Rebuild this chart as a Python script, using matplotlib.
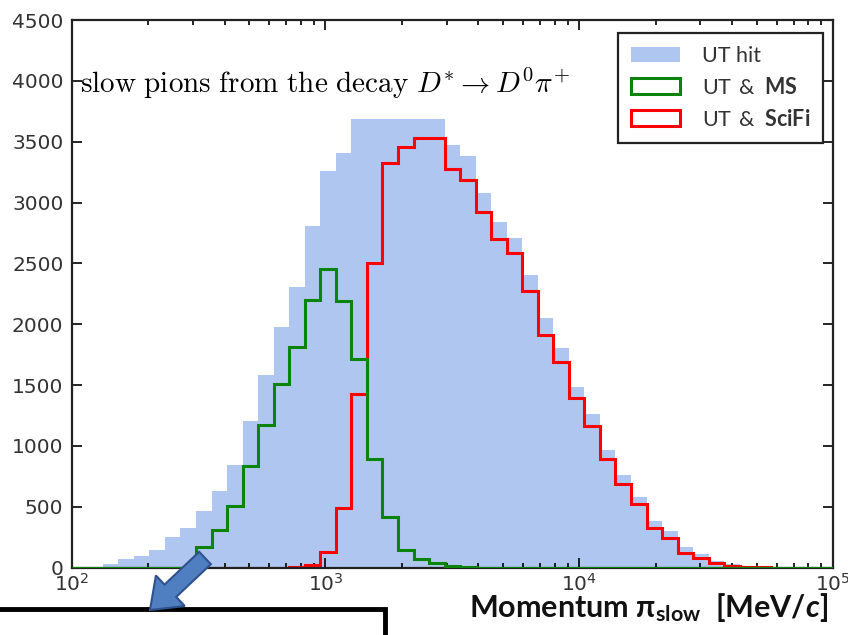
import numpy as np
import matplotlib
matplotlib.use("Agg")
import matplotlib.pyplot as plt
from matplotlib import patches
from matplotlib.transforms import IdentityTransform

plt.rcParams['mathtext.bf'] = 'Lato:bold'
plt.rcParams['mathtext.rm'] = 'Lato'
plt.rcParams['mathtext.it'] = 'Lato:italic'
plt.rcParams['mathtext.bfit'] = 'Lato:bold:italic'

# 49 log-spaced bins between 1e2 and 1e5 MeV/c
edges = np.logspace(2, 5, 50)

# UT hit (filled)
ut_hit = [0, 5, 33, 68, 96, 146, 256, 325, 462, 627,
          847, 1205, 1582, 1980, 2310, 2808, 3259, 3405, 3690, 3690,
          3690, 3690, 3690, 3690, 3473, 3385, 3075, 2841, 2709, 2406,
          2049, 1802, 1488, 1260, 971, 765, 578, 380, 303, 171,
          110, 55, 28, 14, 8, 4, 2, 0, 0]
# UT & MS
ut_ms = [0, 0, 0, 0, 0, 0, 0, 0, 173, 311,
         509, 833, 1172, 1513, 1810, 2200, 2456, 2190, 1714, 889,
         416, 146, 69, 36, 12, 5, 0, 0, 0, 0,
         0, 0, 0, 0, 0, 0, 0, 0, 0, 0,
         0, 0, 0, 0, 0, 0, 0, 0, 0]
# UT & SciFi
ut_scifi = [0, 0, 0, 0, 0, 0, 0, 0, 0, 0,
            0, 0, 0, 0, 3, 25, 130, 490, 1425, 2505,
            3328, 3458, 3528, 3528, 3273, 3188, 2920, 2698, 2588, 2277,
            1914, 1686, 1398, 1163, 894, 690, 527, 330, 248, 124,
            77, 41, 12, 8, 5, 0, 0, 0, 0]

labels = ['UT hit', r'UT $\,$&$\;$ $\mathbf{MS}$', r'UT $\,$&$\;$ $\mathbf{SciFi}$']

centers = np.sqrt(edges[:-1] * edges[1:])

fig = plt.figure(figsize=(8.48, 6.35), dpi=100)
ax = fig.add_axes([0.0846, 0.106, 0.8977, 0.8625])

_, _, p_hit = ax.hist(centers, bins=edges, weights=ut_hit, histtype='stepfilled',
                      color='#afc7f0', lw=0, zorder=1)
_, _, p_sci = ax.hist(centers, bins=edges, weights=ut_scifi, histtype='step',
                      color='#ff0000', lw=2.2, zorder=2)
_, _, p_ms = ax.hist(centers, bins=edges, weights=ut_ms, histtype='step',
                     color='#0a840a', lw=2.2, zorder=3)

ax.set_xscale('log')
ax.set_xlim(1e2, 1e5)
ax.set_ylim(0, 4500)
ax.set_yticks(np.arange(0, 4501, 500))
ax.tick_params(which='both', direction='in', top=True, right=True,
               labelsize=14.5, labelcolor='#333333', width=1.2)
ax.tick_params(axis='y', pad=6)
ax.tick_params(which='major', length=7)
ax.tick_params(which='minor', length=3.5)
for s in ax.spines.values():
    s.set_linewidth(1.6)
    s.set_color('#222222')

ax.text(0.011, 0.867,
        r'$\mathrm{slow\ pions\ from\ the\ decay}\ D^{*}\rightarrow D^{0}\pi^{+}$',
        transform=ax.transAxes, fontsize=21, math_fontfamily='cm',
        ha='left', va='baseline', zorder=5)

leg = ax.legend([p_hit[0], p_ms[0], p_sci[0]], labels,
                loc='upper right', bbox_to_anchor=(0.987, 0.976), borderaxespad=0,
                fancybox=False, edgecolor='#222222', framealpha=1,
                prop={'family': 'Lato', 'size': 15.5},
                handlelength=2.3, handleheight=0.75, labelspacing=0.5,
                handletextpad=1.0, borderpad=0.6)
leg.get_frame().set_linewidth(1.6)
for t in leg.get_texts():
    t.set_math_fontfamily('custom')
    t.set_color('#333333')

fig.text(0.976, 0.029, r'Momentum π$_{\mathbf{slow}}$  [MeV/$\mathbfit{c}$]',
         fontsize=22, fontweight='bold', family='Lato', math_fontfamily='custom',
         ha='right', va='baseline', color='#111111')

# slide decoration: framed box and arrow at the bottom left
box = patches.Rectangle((-10, -10), 395, 36, transform=IdentityTransform(),
                        facecolor='white', edgecolor='black', lw=3.5, zorder=10)
fig.patches.append(box)
arrow = patches.FancyArrow(205, 77, -55, -52, width=17, head_width=42,
                           head_length=28, length_includes_head=True,
                           transform=IdentityTransform(), facecolor='#4f7fc0',
                           edgecolor='#2f528f', lw=1.5, zorder=11)
fig.patches.append(arrow)

fig.savefig('out.png', dpi=100)
